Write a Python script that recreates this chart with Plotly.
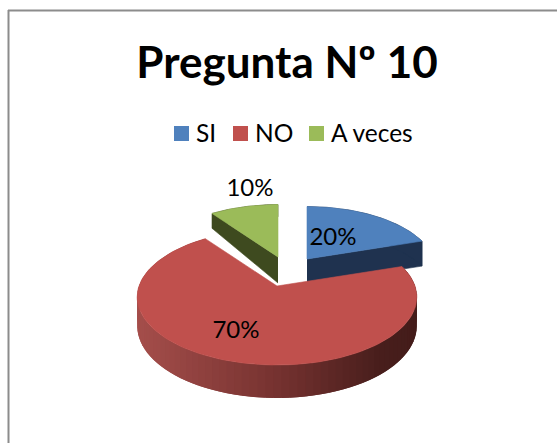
import numpy as np
import plotly.graph_objects as go

# Data
categories = ["SI", "NO", "A veces"]
values = [20, 70, 10]
title_text = "Pregunta Nº 10"

# Styles and layout
W, H = 557, 443
top_colors = ["#4f81bd", "#c0504d", "#9bbb59"]
side_colors = ["#1f324f", None, "#3e4a1f"]
apexes = [(307, 259), (277, 286), (278, 257)]
scales = [0.92, 1.0, 0.92]
depth_near = [25, 28, 26]
depth_slope = [0, 5, 13.75]
label_offsets = [(26, -20), (-41, 46), (-28, -67)]
legend_x = [181.5, 240.5, 316.5]
legend_y = 133.5
legend_text_gap = 14.5
legend_text_y = 136
R, A, P = 138.0, 66.2, 0.162
FONT = "Lato"


def project(theta, radius=1.0):
    u, v = radius * np.sin(theta), radius * np.cos(theta)
    w = 1 + P * v
    return R * u / w, -A * v / w, v


def red_shade(x):
    xs = [137, 277, 380, 416]
    r = np.interp(x, xs, [165, 118, 72, 68])
    g = np.interp(x, xs, [78, 50, 30, 28])
    b = np.interp(x, xs, [75, 48, 28, 26])
    return f"rgb({r:.0f},{g:.0f},{b:.0f})"


fractions = np.array(values, dtype=float) / sum(values)
ends = np.cumsum(fractions) * 2 * np.pi
starts = ends - fractions * 2 * np.pi

fig = go.Figure()


def poly(xs, ys, color, width=0.6):
    fig.add_trace(go.Scatter(
        x=list(xs), y=list(ys), mode="lines", fill="toself", fillcolor=color,
        line=dict(color=color, width=width), showlegend=False, hoverinfo="skip"))


def geometry(i):
    ax, ay = apexes[i]
    s = scales[i]
    th = np.linspace(starts[i], ends[i], 120)
    dx, dy, v = project(th)
    return ax, ay, s, th, ax + s * dx, ay + s * dy, v


def depth(i, v):
    return depth_near[i] - depth_slope[i] * v


# Draw order: blue, green, then the big red slice in front
for i in [0, 2, 1]:
    ax, ay, s, th, xs, ys, v = geometry(i)
    if i == 1:
        # outer wall, shaded from right to left; each piece runs under the next
        n = 90
        edges = np.linspace(starts[i], ends[i], n + 1)
        step = edges[1] - edges[0]
        for a in edges[:-1]:
            seg = np.linspace(a, min(a + 2 * step, ends[i]), 6)
            dx, dy, vv = project(seg)
            sx, sy = ax + s * dx, ay + s * dy
            low = sy + depth(i, vv)
            poly(np.r_[sx, sx[::-1]], np.r_[sy, low[::-1]], red_shade(sx[:3].mean()), width=0)
    else:
        # cut wall facing the viewer
        if i == 0:
            ex, ey, ev = xs[-1], ys[-1], v[-1]
        else:
            ex, ey, ev = xs[0], ys[0], v[0]
        poly([ax, ex, ex, ax], [ay, ey, ey + depth(i, ev), ay + depth(i, 0)], side_colors[i])
        # outer wall of the slice
        poly(np.r_[xs, xs[::-1]], np.r_[ys, (ys + depth(i, v))[::-1]], side_colors[i])
    poly(np.r_[ax, xs, ax], np.r_[ay, ys, ay], top_colors[i])

# Percentage labels
fig.add_trace(go.Scatter(
    x=[apexes[i][0] + label_offsets[i][0] for i in range(3)],
    y=[apexes[i][1] + label_offsets[i][1] for i in range(3)],
    mode="text",
    text=[f"{round(f * 100)}%" for f in fractions],
    textposition="middle center",
    textfont=dict(family=FONT, size=24, color="#000000"),
    showlegend=False, hoverinfo="skip"))

# Legend entries, spaced as in the original
for name, color, lx in zip(categories, top_colors, legend_x):
    fig.add_trace(go.Scatter(
        x=[lx], y=[legend_y], mode="markers", name=name,
        marker=dict(symbol="square", size=15, color=color),
        showlegend=False, hoverinfo="skip"))
    fig.add_trace(go.Scatter(
        x=[lx + legend_text_gap], y=[legend_text_y], mode="text", name=name,
        text=[name], textposition="middle right",
        textfont=dict(family=FONT, size=24.5, color="#000000"),
        showlegend=False, hoverinfo="skip"))

fig.update_layout(
    width=W, height=H,
    margin=dict(l=0, r=0, t=0, b=0),
    paper_bgcolor="white", plot_bgcolor="white",
    showlegend=False,
    xaxis=dict(range=[0, W], visible=False, fixedrange=True),
    yaxis=dict(range=[H, 0], visible=False, fixedrange=True),
    title=dict(text=f"<b>{title_text}</b>", x=287 / W, xanchor="center",
               y=1 - 63 / H, yanchor="middle",
               font=dict(family=FONT, size=44, color="#000000")),
    shapes=[
        dict(type="line", xref="x", yref="y", x0=8, x1=W, y0=10.5, y1=10.5,
             line=dict(color="#8c8c8c", width=2)),
        dict(type="line", xref="x", yref="y", x0=8.5, x1=8.5, y0=10, y1=H,
             line=dict(color="#8c8c8c", width=2)),
    ],
)

fig.write_html("out.html", config={"displayModeBar": False},
               post_script="document.body.style.margin='0';")
